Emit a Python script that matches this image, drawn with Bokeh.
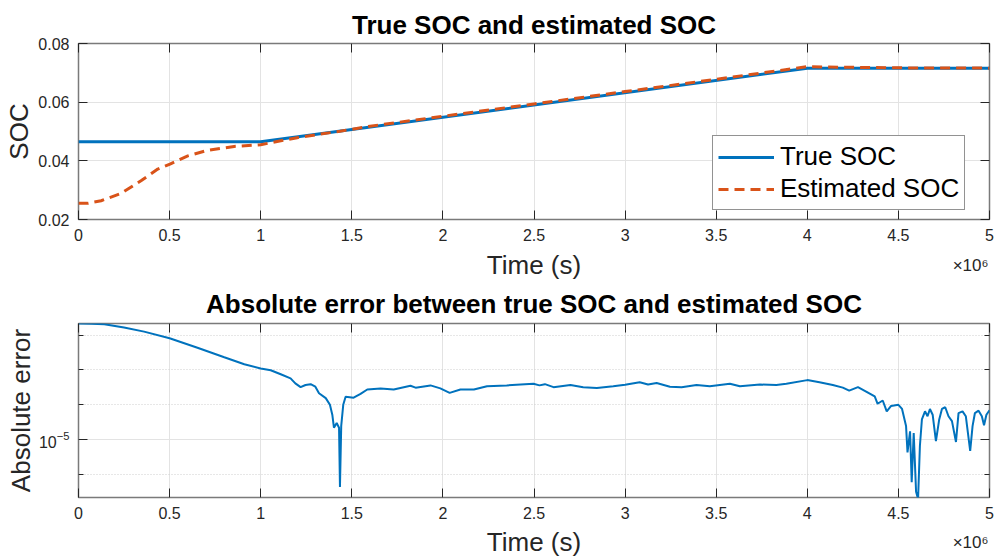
import math
from bokeh.plotting import figure
from bokeh.models import (Range1d, LinearAxis, LogAxis, FixedTicker,
                          CustomJSTickFormatter)
from bokeh.layouts import column
from bokeh.embed import file_html
from bokeh.resources import INLINE

# ---------------- data (time in units of 1e6 s) ----------------
t_true = [0.0, 1.0, 4.0, 5.0]
soc_true = [0.0465, 0.0465, 0.0716, 0.0716]

t_est = [0.0, 0.05, 0.124, 0.234, 0.343, 0.435, 0.502, 0.6, 0.709, 0.854,
         1.0, 1.2, 1.435, 1.6, 2.0, 2.5, 3.0, 3.5, 4.0, 4.2, 4.5, 5.0]
soc_est = [0.0255, 0.0255, 0.0264, 0.0289, 0.0332, 0.0372, 0.0389, 0.0417,
           0.0436, 0.0449, 0.0455, 0.0479, 0.0501, 0.0518, 0.0552, 0.0594,
           0.0636, 0.0678, 0.0721, 0.0719, 0.0717, 0.0716]

t_err = [0.000, 0.070, 0.142, 0.250, 0.360, 0.500, 0.653, 0.800, 0.910, 1.000,
         1.055, 1.110, 1.164, 1.190, 1.219, 1.246, 1.274, 1.300, 1.320, 1.357,
         1.380, 1.393, 1.402, 1.417, 1.430, 1.435, 1.442, 1.453, 1.466, 1.510,
         1.548, 1.585, 1.658, 1.730, 1.822, 1.850, 1.932, 1.986, 2.037, 2.096,
         2.170, 2.242, 2.350, 2.497, 2.530, 2.560, 2.607, 2.700, 2.770, 2.845,
         2.935, 3.000, 3.080, 3.126, 3.173, 3.246, 3.310, 3.392, 3.465, 3.575,
         3.630, 3.740, 3.830, 3.885, 4.000, 4.067, 4.140, 4.195, 4.230, 4.278,
         4.323, 4.370, 4.386, 4.414, 4.436, 4.460, 4.500, 4.520, 4.542, 4.550,
         4.564, 4.573, 4.584, 4.597, 4.608, 4.618, 4.629, 4.646, 4.660, 4.673,
         4.688, 4.706, 4.724, 4.739, 4.757, 4.775, 4.794, 4.816, 4.830, 4.852,
         4.870, 4.894, 4.907, 4.920, 4.940, 4.958, 4.970, 4.983, 5.000]
abs_err = [2.14e-2, 2.12e-2, 2.05e-2, 1.65e-2, 1.25e-2, 8.1e-3, 4.3e-3, 2.3e-3, 1.45e-3, 1.1e-3,
           9.8e-4, 7.5e-4, 5.7e-4, 4.1e-4, 3.2e-4, 3.7e-4, 3.9e-4, 3.3e-4, 2.14e-4, 1.55e-4,
           1.0e-4, 5.2e-5, 2.2e-5, 3.0e-5, 2.2e-5, 4.4e-7, 2.5e-5, 1.0e-4, 1.7e-4, 1.6e-4,
           2.05e-4, 2.75e-4, 2.95e-4, 2.75e-4, 3.5e-4, 3.1e-4, 3.6e-4, 2.95e-4, 2.2e-4, 2.75e-4,
           2.75e-4, 3.4e-4, 3.6e-4, 4.0e-4, 3.6e-4, 3.9e-4, 3.2e-4, 3.7e-4, 3.2e-4, 3.05e-4,
           3.4e-4, 3.75e-4, 4.45e-4, 3.8e-4, 4.2e-4, 3.3e-4, 3.2e-4, 3.7e-4, 3.4e-4, 4.0e-4,
           3.4e-4, 3.8e-4, 3.7e-4, 4.0e-4, 5.1e-4, 4.45e-4, 3.7e-4, 3.1e-4, 2.55e-4, 3.2e-4,
           2.4e-4, 1.73e-4, 1.07e-4, 1.33e-4, 6.5e-5, 9.3e-5, 1.0e-4, 7.6e-5, 2.45e-5, 4.3e-6,
           1.73e-5, 6.0e-7, 1.55e-5, 3.2e-7, 2.0e-7, 6.6e-6, 3.8e-5, 6.5e-5, 4.7e-5, 7.6e-5,
           5.2e-5, 9.1e-6, 3.8e-5, 7.6e-5, 8.5e-5, 4.7e-5, 3.4e-5, 8.6e-6, 5.8e-5, 6.5e-5,
           4.7e-5, 4.8e-6, 2.45e-5, 5.8e-5, 6.8e-5, 4.7e-5, 2.6e-5, 5.2e-5, 7.0e-5]

x_ticks = [0, 0.5, 1, 1.5, 2, 2.5, 3, 3.5, 4, 4.5, 5]
x_tick_labels = ["0", "0.5", "1", "1.5", "2", "2.5", "3", "3.5", "4", "4.5", "5"]
x_multiplier = "\u00d710\u2076"
soc_ticks = [0.02, 0.04, 0.06, 0.08]
soc_tick_labels = ["0.02", "0.04", "0.06", "0.08"]
err_major_ticks = [1e-5]
err_minor_ticks = [1e-7, 1e-6, 1e-4, 1e-3, 1e-2, 1e-1]
soc_limits = (0.02, 0.08)
err_limits = (2.2e-7, 0.0214)

FONT = "Liberation Sans"
TXT = "#262626"
BLUE = "#0072BD"
ORANGE = "#D95319"

TOP_H, BOT_H = 282, 277
TOP_FRAME_H = 176
BOT_FRAME_H = 175
BOT_TOP_BORDER = 40


def label_formatter(tvals, tlabels):
    return CustomJSTickFormatter(args=dict(tvals=tvals, tlabels=tlabels), code="""
        for (let i = 0; i < tvals.length; i++) {
            if (Math.abs(tvals[i] - tick) < 1e-9) { return tlabels[i]; }
        }
        return "";
    """)


def style_axis(ax, show_labels=True, minor=False):
    ax.axis_line_color = None
    ax.major_tick_in = 9
    ax.major_tick_out = 0
    ax.major_tick_line_color = TXT
    ax.major_tick_line_width = 1
    if minor:
        ax.minor_tick_in = 5
        ax.minor_tick_out = 0
        ax.minor_tick_line_color = TXT
    else:
        ax.minor_tick_line_color = None
    ax.major_label_text_font = FONT
    ax.major_label_text_color = TXT
    ax.axis_label_text_font = FONT
    ax.axis_label_text_font_size = "26px"
    ax.axis_label_text_font_style = "normal"
    ax.axis_label_text_color = TXT
    if show_labels:
        ax.major_label_text_font_size = "16px"
        ax.major_label_standoff = 9
    else:
        ax.major_label_text_font_size = "1px"
        ax.major_label_text_alpha = 0
        ax.major_label_standoff = 0


def style_fig(p, title, standoff):
    p.title.text = title
    p.title.align = "center"
    p.title.text_font = FONT
    p.title.text_font_size = "26px"
    p.title.text_font_style = "bold"
    p.title.text_color = "black"
    p.title.standoff = standoff
    p.outline_line_color = "#7a7a7a"
    p.outline_line_width = 1.5
    p.background_fill_color = "white"
    p.border_fill_color = "white"
    p.xgrid.grid_line_color = "#e3e3e3"
    p.ygrid.grid_line_color = "#e3e3e3"


def add_multiplier(p, standoff):
    # extra tick-less axis below whose label sits right-aligned beside "Time (s)"
    pad = "\u00a0" * 8
    mx = LinearAxis(ticker=FixedTicker(ticks=[]), axis_label=x_multiplier + pad,
                    axis_label_align="end", axis_label_standoff=standoff)
    style_axis(mx, False)
    mx.major_tick_line_color = None
    mx.axis_label_text_font_size = "17px"
    p.add_layout(mx, "below")


# ---------------- top figure ----------------
p1 = figure(width=998, height=TOP_H, x_range=Range1d(0, 5),
            y_range=Range1d(*soc_limits),
            output_backend="svg", toolbar_location=None,
            min_border_left=78, min_border_right=9, min_border_top=43,
            min_border_bottom=TOP_H - 43 - TOP_FRAME_H)
style_fig(p1, "True SOC and estimated SOC", 7)
p1.add_layout(LinearAxis(), "above")
p1.add_layout(LinearAxis(), "right")
bx1, lx1 = p1.below[0], p1.left[0]
for ax in p1.below + p1.above:
    ax.ticker = FixedTicker(ticks=x_ticks)
    ax.formatter = label_formatter(x_ticks, x_tick_labels)
for ax in p1.left + p1.right:
    ax.ticker = FixedTicker(ticks=soc_ticks)
    ax.formatter = label_formatter(soc_ticks, soc_tick_labels)
for ax in p1.below + p1.left:
    style_axis(ax, True)
for ax in p1.above + p1.right:
    style_axis(ax, False)
bx1.axis_label = "Time (s)"
lx1.axis_label = "SOC"
bx1.axis_label_standoff = 6
lx1.axis_label_standoff = 1

p1.line(t_true, soc_true, line_width=3, color=BLUE, legend_label="True SOC")
p1.line(t_est, soc_est, line_width=3, color=ORANGE, line_dash="10 6",
        legend_label="Estimated SOC")
leg = p1.legend[0]
leg.location = (634, 9)
leg.margin = 0
leg.padding = 5
leg.spacing = 1
leg.glyph_width = 56
leg.glyph_height = 30
leg.label_height = 30
leg.label_standoff = 6
leg.label_text_font = FONT
leg.label_text_font_size = "26px"
leg.label_text_color = "black"
leg.border_line_color = TXT
leg.border_line_width = 1
leg.background_fill_alpha = 1
add_multiplier(p1, -27)

# ---------------- bottom figure ----------------
p2 = figure(width=998, height=BOT_H, x_range=Range1d(0, 5), y_range=Range1d(*err_limits),
            y_axis_type="log", output_backend="svg", toolbar_location=None,
            min_border_left=78, min_border_right=9, min_border_top=BOT_TOP_BORDER,
            min_border_bottom=BOT_H - BOT_TOP_BORDER - BOT_FRAME_H)
style_fig(p2, "Absolute error between true SOC and estimated SOC", 9)
p2.add_layout(LinearAxis(), "above")
p2.add_layout(LogAxis(), "right")
bx2, lx2 = p2.below[0], p2.left[0]
for ax in p2.below + p2.above:
    ax.ticker = FixedTicker(ticks=x_ticks)
    ax.formatter = label_formatter(x_ticks, x_tick_labels)
for ax in p2.left + p2.right:
    ax.ticker = FixedTicker(ticks=err_major_ticks, minor_ticks=err_minor_ticks)
for ax in p2.below + p2.above:
    style_axis(ax, ax is bx2, minor=False)
for ax in p2.left + p2.right:
    style_axis(ax, ax is lx2, minor=True)
bx2.axis_label = "Time (s)"
lx2.axis_label = "Absolute error"
bx2.axis_label_standoff = 5
lx2.axis_label_standoff = 0
p2.ygrid.minor_grid_line_color = "#cfcfcf"
p2.ygrid.minor_grid_line_dash = "1 2"

p2.line(t_err, abs_err, line_width=2, color=BLUE)
add_multiplier(p2, -27)

layout = column(p1, p2, spacing=0)
open("out.html", "w").write(file_html(layout, INLINE))
